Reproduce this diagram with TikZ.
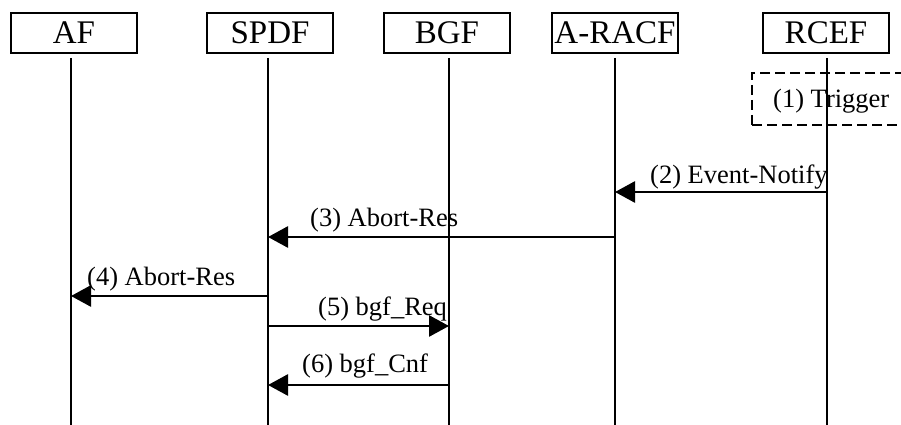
\documentclass[tikz,border=0pt]{standalone}
\usepackage{fontspec}
\setmainfont{Liberation Serif}
\usetikzlibrary{arrows.meta}
\begin{document}
\begin{tikzpicture}[x=1pt,y=-1pt,
  entity/.style={draw,line width=2.2pt,minimum width=126pt,minimum height=40pt,inner sep=0pt,font=\fontsize{33}{36}\selectfont},
  life/.style={line width=2.2pt},
  msg/.style={line width=2.8pt,-{Triangle[length=20pt,width=21pt]}},
  lbl/.style={anchor=base west,inner sep=0pt,font=\fontsize{26.5}{30}\selectfont},
  trig/.style={draw,dash pattern=on 10pt off 5pt,line width=2.8pt,minimum width=163pt,minimum height=52pt,inner sep=0pt},
]
\clip (0,0) rectangle (901,425);
% entities
\node[entity] (af)   at (74,33)  {AF};
\node[entity] (spdf) at (270,33) {SPDF};
\node[entity] (bgf)  at (447,33) {BGF};
\node[entity] (racf) at (615,33) {A-RACF};
\node[entity] (rcef) at (826,33) {RCEF};
% lifeline ends
\coordinate (afT) at (71,58);   \coordinate (afB) at (71,425);
\coordinate (spT) at (268,58);  \coordinate (spB) at (268,425);
\coordinate (bgT) at (449,58);  \coordinate (bgB) at (449,425);
\coordinate (raT) at (615,58);  \coordinate (raB) at (615,425);
\coordinate (rcT) at (827,58);  \coordinate (rcB) at (827,425);
% trigger box
\node[trig] (trigger) at (833.5,99) {};
\draw[life] (afT) -- (afB);
\draw[life] (spT) -- (spB);
\draw[life] (bgT) -- (bgB);
\draw[life] (raT) -- (raB);
\draw[life] (rcT) -- (rcB);
\node[lbl] (t1) at (773,108) {(1) Trigger};
% message points
\coordinate (m2a) at (827,192); \coordinate (m2b) at (615,192);
\coordinate (m3a) at (615,237); \coordinate (m3b) at (268,237);
\coordinate (m4a) at (268,296); \coordinate (m4b) at (71,296);
\coordinate (m5a) at (268,326); \coordinate (m5b) at (449,326);
\coordinate (m6a) at (449,385); \coordinate (m6b) at (268,385);
\draw[msg] (m2a) -- (m2b);
\draw[msg] (m3a) -- (m3b);
\draw[msg] (m4a) -- (m4b);
\draw[msg] (m5a) -- (m5b);
\draw[msg] (m6a) -- (m6b);
\node[lbl] (l2) at (650,183) {(2) Event-Notify};
\node[lbl] (l3) at (310,226) {(3) Abort-Res};
\node[lbl] (l4) at (87,285)  {(4) Abort-Res};
\node[lbl] (l5) at (318,315) {(5) bgf\_Req};
\node[lbl] (l6) at (302,372) {(6) bgf\_Cnf};
\end{tikzpicture}
\end{document}
